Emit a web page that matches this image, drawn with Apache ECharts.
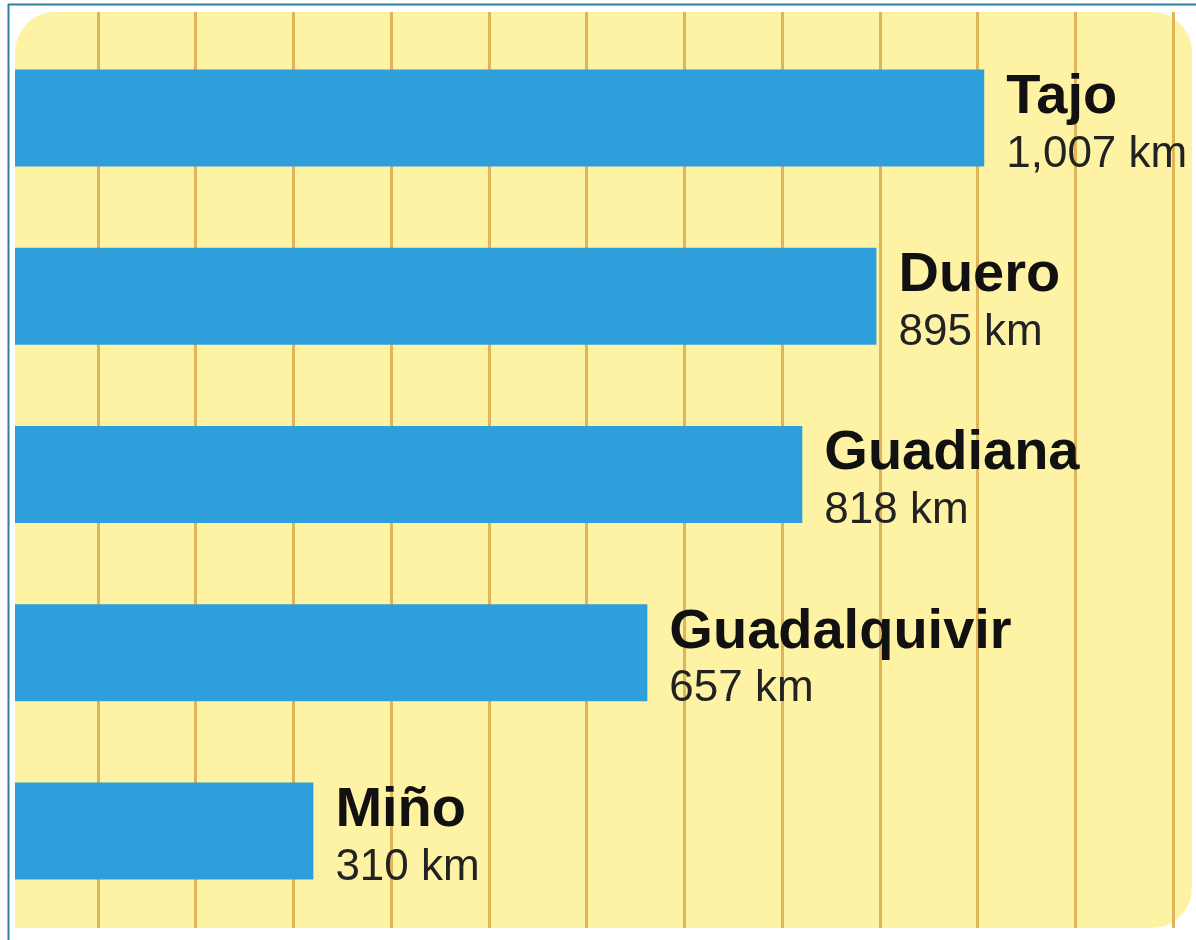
<!DOCTYPE html>
<html>
<head>
<meta charset="utf-8">
<title>Ríos de España</title>
<script src="https://cdn.jsdelivr.net/npm/echarts@6/dist/echarts.min.js"></script>
<style>
  html, body { margin: 0; padding: 0; background: #ffffff; }
  #chart { width: 1196px; height: 940px; }
</style>
</head>
<body>
<div id="chart"></div>
<script>
// rivers and their length (km)
var rivers = ["Tajo", "Duero", "Guadiana", "Guadalquivir", "Miño"];
var lengths = [1007, 895, 818, 657, 310];
// background ruling: 12 vertical lines
var rulingTicks = [0, 11];

var myChart = echarts.init(document.getElementById("chart"));

myChart.setOption({
  backgroundColor: "#ffffff",
  animation: false,
  graphic: [
    {
      type: "rect",
      z: -10,
      silent: true,
      shape: { x: 15, y: 12, width: 1177, height: 916, r: [40, 40, 40, 0] },
      style: { fill: "#FEF3A5" }
    },
    {
      type: "line",
      silent: true,
      shape: { x1: 8, y1: 4.5, x2: 1196, y2: 4.5 },
      style: { stroke: "#2F7FA3", lineWidth: 2 }
    },
    {
      type: "line",
      silent: true,
      shape: { x1: 8.5, y1: 4, x2: 8.5, y2: 940 },
      style: { stroke: "#2F7FA3", lineWidth: 2 }
    }
  ],
  grid: [
    // bars
    { left: 15, top: 29, width: 1155, height: 891 },
    // vertical ruling
    { left: 98, top: 12, width: 1075, height: 916 }
  ],
  xAxis: [
    {
      gridIndex: 0,
      type: "value",
      min: 0,
      max: 1200,
      show: false
    },
    {
      gridIndex: 1,
      type: "value",
      min: rulingTicks[0],
      max: rulingTicks[1],
      interval: 1,
      axisLine: { show: false },
      axisTick: { show: false },
      axisLabel: { show: false },
      splitLine: { show: true, lineStyle: { color: "#E2B45A", width: 3 } }
    }
  ],
  yAxis: [
    {
      gridIndex: 0,
      type: "category",
      inverse: true,
      data: rivers,
      show: false
    },
    {
      gridIndex: 1,
      type: "value",
      show: false
    }
  ],
  series: [
    {
      type: "bar",
      xAxisIndex: 0,
      yAxisIndex: 0,
      data: lengths,
      barWidth: 97,
      itemStyle: { color: "#2E9FDA" },
      z: 5,
      label: {
        show: true,
        position: "right",
        distance: 22,
        offset: [0, 8],
        formatter: function (p) {
          return "{n|" + p.name + "}\n{v|" + p.value.toLocaleString("en-US") + " km}";
        },
        rich: {
          n: {
            fontFamily: "Liberation Sans, Arial, sans-serif",
            fontWeight: "bold",
            fontSize: 56,
            color: "#111111",
            lineHeight: 57
          },
          v: {
            fontFamily: "Liberation Sans, Arial, sans-serif",
            fontSize: 44,
            color: "#222222",
            lineHeight: 57
          }
        }
      }
    }
  ]
});
</script>
</body>
</html>
